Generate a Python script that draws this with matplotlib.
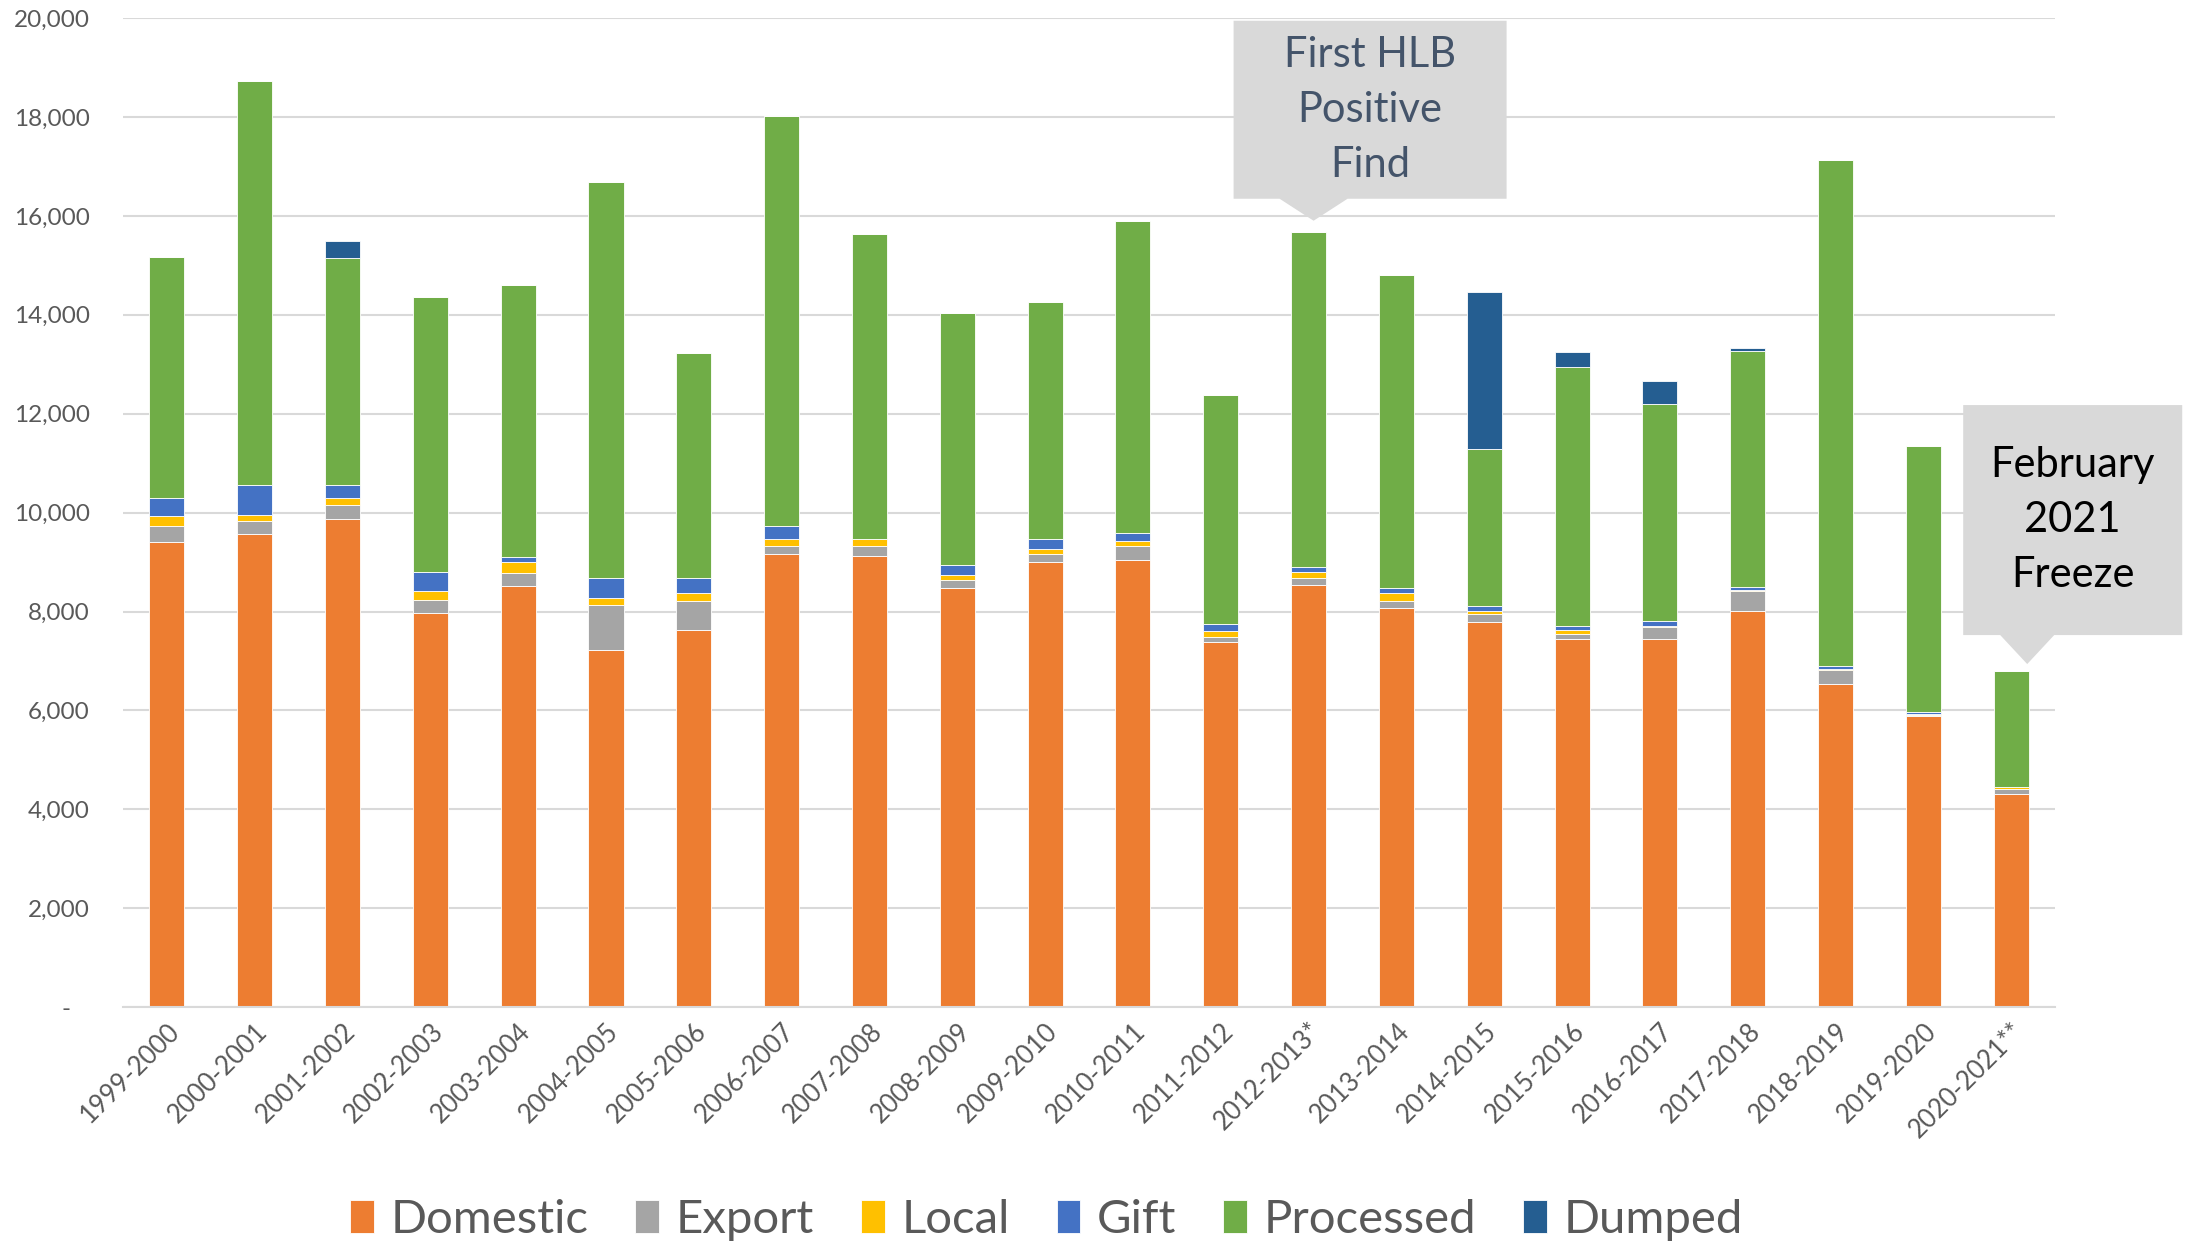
import matplotlib
matplotlib.use('Agg')
import matplotlib.pyplot as plt
import numpy as np
from matplotlib.patches import Polygon
from matplotlib.transforms import IdentityTransform
from matplotlib.ticker import FuncFormatter

plt.rcParams['font.family'] = ['Lato', 'DejaVu Sans']

seasons = ['1999-2000', '2000-2001', '2001-2002', '2002-2003', '2003-2004', '2004-2005',
           '2005-2006', '2006-2007', '2007-2008', '2008-2009', '2009-2010', '2010-2011',
           '2011-2012', '2012-2013*', '2013-2014', '2014-2015', '2015-2016', '2016-2017',
           '2017-2018', '2018-2019', '2019-2020', '2020-2021**']

domestic = [9400, 9570, 9870, 7980, 8510, 7220, 7620, 9170, 9130, 8475, 9000,
            9036, 7380, 8543, 8077, 7780, 7450, 7449, 8009, 6530, 5895, 4315]
export = [330, 257, 290, 257, 263, 918, 594, 162, 203, 162, 162,
          297, 101, 128, 135, 162, 101, 230, 399, 291, 10, 88]
local = [196, 135, 135, 169, 230, 142, 169, 134, 134, 101, 101,
         94, 129, 128, 169, 67, 68, 34, 33, 10, 34, 40]
gift = [365, 594, 263, 398, 108, 391, 290, 264, 10, 196, 202,
        169, 135, 108, 94, 101, 95, 102, 61, 67, 34, 10]
processed = [4880, 8170, 4585, 5548, 5498, 8023, 4555, 8289, 6156, 5110, 4802,
             6309, 4624, 6772, 6330, 3170, 5231, 4388, 4762, 10229, 5383, 2344]
dumped = [0, 0, 340, 0, 0, 0, 0, 0, 0, 0, 0,
          0, 0, 0, 0, 3190, 310, 460, 61, 0, 0, 0]

series = [('Domestic', domestic, '#ED7D31'),
          ('Export', export, '#A5A5A5'),
          ('Local', local, '#FFC000'),
          ('Gift', gift, '#4472C4'),
          ('Processed', processed, '#70AD47'),
          ('Dumped', dumped, '#255E91')]

fig = plt.figure(figsize=(21.87, 12.42), dpi=100)
ax = fig.add_axes([0.0562, 0.189, 0.8835, 0.7965])

x = np.arange(len(seasons))
bottom = np.zeros(len(seasons))
for name, vals, col in series:
    ax.bar(x, vals, 0.4, bottom=bottom, color=col, label=name, edgecolor='white', linewidth=0.6)
    bottom += np.array(vals)
totals = bottom

ax.set_xlim(-0.5, len(seasons) - 0.5)
ax.set_ylim(0, 20000)
ax.set_yticks(np.arange(0, 20001, 2000))
ax.yaxis.set_major_formatter(FuncFormatter(lambda v, p: '-   ' if v == 0 else f'{v:,.0f}'))
ax.grid(axis='y', color='#D9D9D9', linewidth=1.5)
ax.set_axisbelow(True)
for s in ['top', 'right', 'left']:
    ax.spines[s].set_visible(False)
ax.spines['bottom'].set_color('#D9D9D9')
ax.spines['bottom'].set_linewidth(1.5)
ax.tick_params(axis='y', length=0, pad=24, labelsize=17.5, labelcolor='#595959')
ax.tick_params(axis='x', length=0, pad=8, labelsize=18.5, labelcolor='#595959')
ax.set_xticks(x)
ax.set_xticklabels(seasons, rotation=45, ha='right', rotation_mode='anchor')

leg = ax.legend(loc='center', bbox_to_anchor=(0.478, -0.215), ncol=6, frameon=False,
                fontsize=34, handlelength=0.5, handleheight=0.7, handletextpad=0.35,
                columnspacing=1.0, labelcolor='#595959')

# callout boxes (pixel offsets from the tip, y pointing down)


def callout(idx, dx, dy, left, right, top, bot, half, text, color):
    tx, ty = ax.transData.transform((idx, totals[idx]))
    tx += dx
    ty += dy
    pts = [(left, top), (right, top), (right, bot), (half, bot), (0, 0), (-half, bot), (left, bot)]
    disp = [(tx + px, ty - py) for px, py in pts]
    fig.add_artist(Polygon(disp, closed=True, facecolor='#D9D9D9', edgecolor='none',
                           transform=IdentityTransform()))
    fig.text(tx + (left + right) / 2, ty - (top + bot) / 2, text, transform=IdentityTransform(),
             ha='center', va='center', fontsize=30, color=color, linespacing=1.55)


callout(13, 5, 11, -80, 193, -200, -22, 34, 'First HLB\nPositive\nFind', '#44546A')
callout(21, 16, 7, -64, 155, -259, -29, 27, 'February\n2021\nFreeze', '#000000')

fig.savefig('out.png', dpi=100)
